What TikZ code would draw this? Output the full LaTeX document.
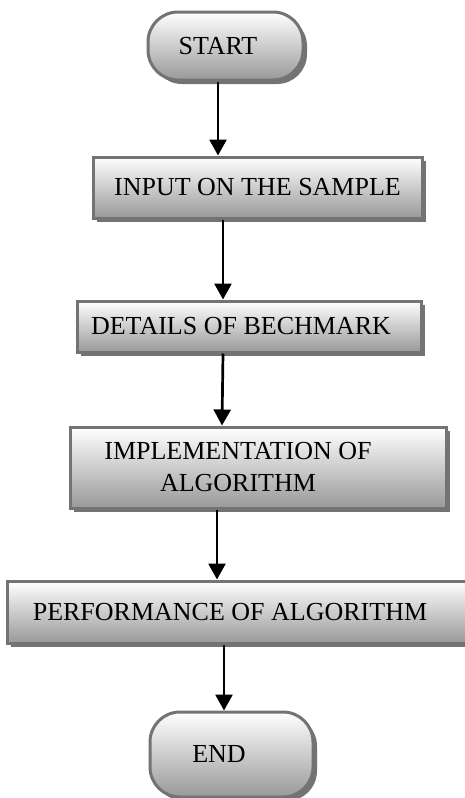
\documentclass[tikz,border=0pt]{standalone}
\usepackage{fontspec}
\setmainfont{Liberation Serif}
\usetikzlibrary{arrows.meta}
\usetikzlibrary{shadows}

\begin{document}
\begin{tikzpicture}[x=1pt,y=-1pt,
    box/.style={draw=black!55,line width=3pt,top color=white,bottom color=black!40,
      drop shadow={shadow xshift=4pt,shadow yshift=-4pt,fill=black!55,opacity=1},
      font=\fontsize{26}{32}\selectfont,inner sep=0pt,align=center},
    term/.style={box,rounded corners=30pt},
    flow/.style={line width=2.7pt,-{Triangle[length=16pt,width=17pt]}}]%
        \useasboundingbox (0,0) rectangle (465,798);%
        \node[term,minimum width=155pt,minimum height=68pt] (start) at (225.5,46) {\hspace*{-15pt}START};%
        \node[box,minimum width=329pt,minimum height=61pt] (input) at (257.5,187.5) {INPUT ON THE SAMPLE};%
        \node[box,minimum width=344pt,minimum height=51pt] (bench) at (249,326.5) {\hspace*{-16pt}DETAILS OF BECHMARK};%
        \node[box,minimum width=376pt,minimum height=81pt] (impl) at (258,467.5) {\hspace*{-40pt}IMPLEMENTATION OF\\\hspace*{-40pt}ALGORITHM};%
        \node[box,minimum width=460pt,minimum height=62pt] (perf) at (237,612) {\hspace*{-14pt}PERFORMANCE OF ALGORITHM};%
        \node[term,minimum width=163pt,minimum height=85pt] (end) at (231.5,754.5) {\hspace*{-25pt}END};%
        \draw[flow] ([xshift=-7.5pt]start.south) -- ([xshift=-39.5pt]input.north);%
        \draw[flow] ([xshift=-34.5pt]input.south) -- ([xshift=-26pt]bench.north);%
        \draw[flow] ([xshift=-26pt]bench.south) -- ([xshift=-36pt]impl.north);%
        \draw[flow] ([xshift=-41pt]impl.south) -- ([xshift=-20pt]perf.north);%
        \draw[flow] ([xshift=-13pt]perf.south) -- ([xshift=-7.5pt]end.north);%
    \end{tikzpicture}
\end{document}
